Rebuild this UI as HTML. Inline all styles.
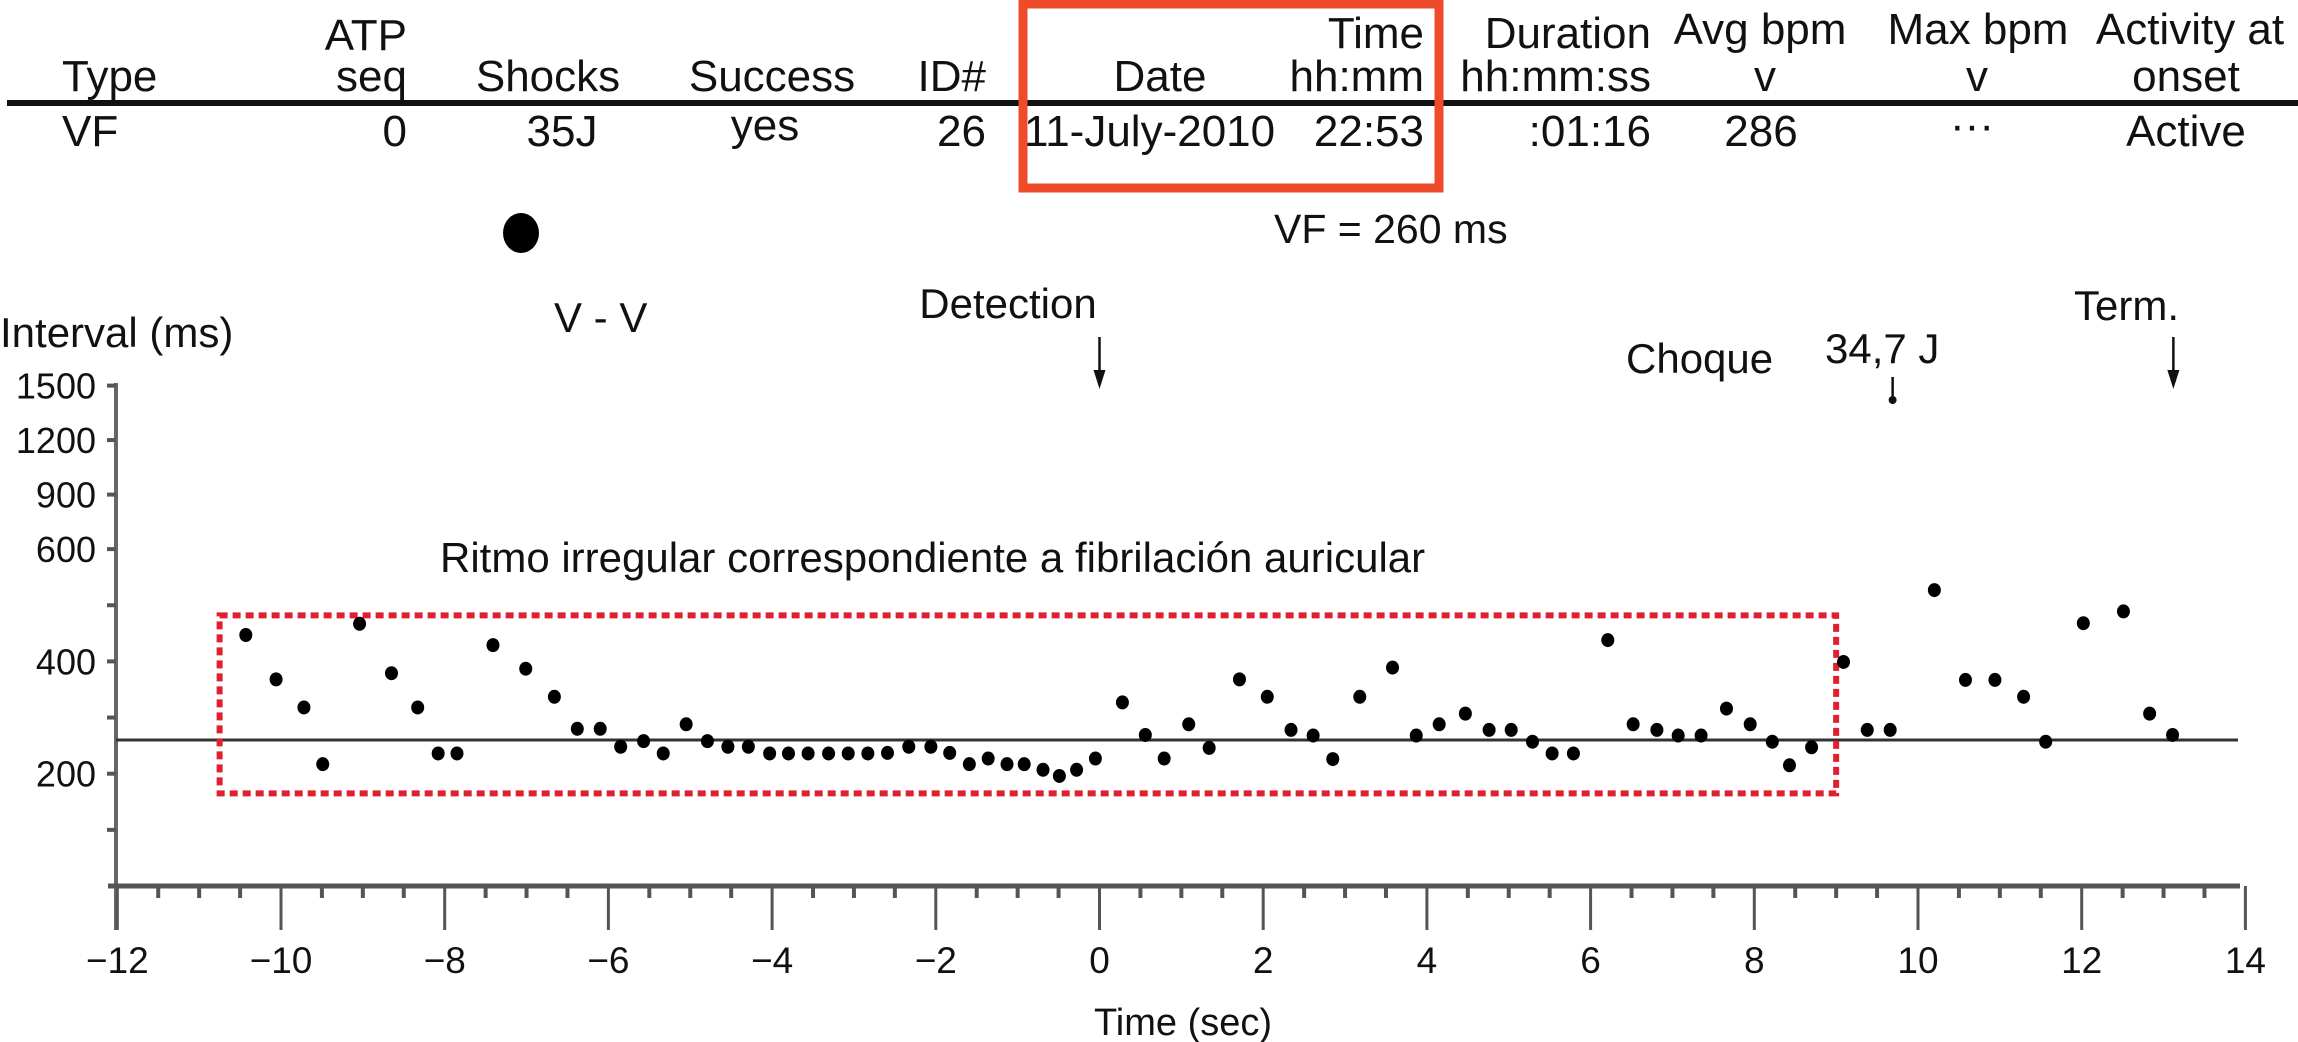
<!DOCTYPE html>
<html><head><meta charset="utf-8">
<style>
html,body{margin:0;padding:0;background:#fff;}
svg{display:block;font-family:"Liberation Sans",Arial,sans-serif;}
</style></head>
<body>
<svg id="chart" width="2298" height="1042" viewBox="0 0 2298 1042" xmlns="http://www.w3.org/2000/svg">
  <rect x="0" y="0" width="2298" height="1042" fill="#fff"/>
  <g font-size="44" fill="#111">
    <text x="407" y="50" text-anchor="end">ATP</text>
    <text x="1424" y="48" text-anchor="end">Time</text>
    <text x="1651" y="48" text-anchor="end">Duration</text>
    <text x="1760" y="44" text-anchor="middle">Avg bpm</text>
    <text x="1978" y="44" text-anchor="middle">Max bpm</text>
    <text x="2190" y="44" text-anchor="middle">Activity at</text>

    <text x="62" y="91">Type</text>
    <text x="407" y="91" text-anchor="end">seq</text>
    <text x="548" y="91" text-anchor="middle">Shocks</text>
    <text x="772" y="91" text-anchor="middle">Success</text>
    <text x="986" y="91" text-anchor="end">ID#</text>
    <text x="1160" y="91" text-anchor="middle">Date</text>
    <text x="1424" y="91" text-anchor="end">hh:mm</text>
    <text x="1651" y="91" text-anchor="end">hh:mm:ss</text>
    <text x="1765" y="91" text-anchor="middle">v</text>
    <text x="1977" y="91" text-anchor="middle">v</text>
    <text x="2186" y="91" text-anchor="middle">onset</text>

    <rect x="7" y="100" width="2291" height="6" fill="#111"/>

    <text x="62" y="146">VF</text>
    <text x="407" y="146" text-anchor="end">0</text>
    <text x="562" y="146" text-anchor="middle">35J</text>
    <text x="765" y="140" text-anchor="middle">yes</text>
    <text x="986" y="146" text-anchor="end">26</text>
    <text x="1024" y="146">11-July-2010</text>
    <text x="1424" y="146" text-anchor="end">22:53</text>
    <text x="1651" y="146" text-anchor="end">:01:16</text>
    <text x="1761" y="146" text-anchor="middle">286</text>
    <text x="1972" y="140" text-anchor="middle">···</text>
    <text x="2186" y="146" text-anchor="middle">Active</text>

    <rect x="1023" y="4" width="416" height="184" fill="none" stroke="#ee4b2b" stroke-width="9"/>
  </g>

  <ellipse cx="521" cy="233" rx="18" ry="20" fill="#000"/>
  <text x="1274" y="243" font-size="41" fill="#111">VF = 260 ms</text>

  <text x="0" y="347" font-size="42" fill="#111">Interval (ms)</text>
  <text x="554" y="332" font-size="42" fill="#111">V - V</text>
  <text x="1008" y="318" font-size="42" fill="#111" text-anchor="middle">Detection</text>
  <text x="1626" y="373" font-size="42" fill="#111">Choque</text>
  <text x="1825" y="363" font-size="42" fill="#111">34,7 J</text>
  <text x="2074" y="320" font-size="42" fill="#111">Term.</text>
  <text x="440" y="572" font-size="42" fill="#111">Ritmo irregular correspondiente a fibrilación auricular</text>
  <text x="1094" y="1035" font-size="38" fill="#111">Time (sec)</text>

  <g id="plot"></g>
</svg>
<script>
// ---- data ----
const timesSec = [-10.43,-10.06,-9.72,-9.49,-9.04,-8.65,-8.33,-8.08,-7.85,-7.41,-7.01,-6.66,-6.38,-6.10,-5.85,-5.57,-5.33,-5.05,-4.79,-4.54,-4.29,-4.03,-3.80,-3.56,-3.31,-3.07,-2.83,-2.59,-2.33,-2.06,-1.83,-1.59,-1.36,-1.13,-0.92,-0.69,-0.49,-0.28,-0.05,0.28,0.56,0.79,1.09,1.34,1.71,2.05,2.34,2.61,2.85,3.18,3.58,3.87,4.15,4.47,4.76,5.03,5.29,5.53,5.79,6.21,6.52,6.81,7.07,7.35,7.66,7.95,8.22,8.43,8.70,9.09,9.38,9.66,10.20,10.58,10.94,11.29,11.56,12.02,12.51,12.83,13.11];
const intervalsMs = [447,368,318,217,467,379,318,236,236,429,387,337,280,280,248,258,236,288,258,248,248,236,236,236,236,236,236,237,248,248,237,217,227,217,217,207,196,207,227,327,269,227,288,246,368,337,278,268,226,337,389,268,288,307,278,278,257,236,236,438,288,278,268,268,316,288,257,215,247,399,278,278,527,367,367,337,257,468,489,307,269];
const yTickValues = [1500,1200,900,600,500,400,300,200,100];
const yTickLabels = ["1500","1200","900","600","","400","","200",""];
const xTickValues = [-12,-10,-8,-6,-4,-2,0,2,4,6,8,10,12,14];
const xTickLabels = ["\u221212","\u221210","\u22128","\u22126","\u22124","\u22122","0","2","4","6","8","10","12","14"];
const vfThresholdMs = [260];
const boxTimeRange = [-10.75, 9.0];
const boxMsRange = [482, 165];
const detectionTime = [0];
const shockTime = [9.69];
const termTime = [13.12];

// ---- scales ----
const X0 = 1099.5, XU = 81.85;
function xs(t){ return X0 + t*XU; }
function ys(v){ return v <= 600 ? 886 - v*0.5615 : 549.1 - (v-600)/300*54.5; }

const NS = "http://www.w3.org/2000/svg";
const plot = document.getElementById('plot');
function mk(tag, attrs){ const e = document.createElementNS(NS, tag); for (const k in attrs) e.setAttribute(k, attrs[k]); plot.appendChild(e); return e; }

let el = mk('line',{x1:116,y1:383,x2:116,y2:930,stroke:'#666','stroke-width':4});


yTickValues.forEach((v,i)=>{
  const t = mk('line',{x1:107,y1:ys(v),x2:116,y2:ys(v),stroke:'#555','stroke-width':4});
  
  
  if (yTickLabels[i]) {
    const lb = mk('text',{x:96,y:ys(v)+13,'font-size':36,'text-anchor':'end',fill:'#111'});
    lb.textContent = yTickLabels[i];
    
    
  }
});

el = mk('line',{x1:108,y1:886,x2:2240,y2:886,stroke:'#555','stroke-width':5});


for (let t=-12; t<=14.001; t+=0.5){
  const major = Math.abs(t - Math.round(t/2)*2) < 1e-6;
  const tk = mk('line',{x1:xs(t),y1:886,x2:xs(t),y2:major?930:898,stroke:'#555','stroke-width':major?3:4});
  
  
}
xTickValues.forEach((v,i)=>{
  const lb = mk('text',{x:xs(v),y:973,'font-size':37,'text-anchor':'middle',fill:'#111'});
  lb.textContent = xTickLabels[i];
  
  
});

el = mk('line',{x1:116,y1:ys(vfThresholdMs[0]),x2:2238,y2:ys(vfThresholdMs[0]),stroke:'#333','stroke-width':3});



el = mk('rect',{x:xs(boxTimeRange[0]),y:ys(boxMsRange[0]),width:xs(boxTimeRange[1])-xs(boxTimeRange[0]),height:ys(boxMsRange[1])-ys(boxMsRange[0]),fill:'none',stroke:'#e0202f','stroke-width':6,'stroke-dasharray':'8 5'});



timesSec.forEach((t,i)=>{
  const p = mk('ellipse',{cx:xs(t),cy:ys(intervalsMs[i]),rx:6.5,ry:7,fill:'#000'});
  
  
});

function arrow(t, name){
  const x = xs(t);
  const l = mk('line',{x1:x,y1:337,x2:x,y2:378,stroke:'#111','stroke-width':2.5});
  
  
  const h = mk('polygon',{points:`${x-6},370 ${x+6},370 ${x},389`,fill:'#111'});
  
  
}
arrow(detectionTime[0],'detection-arrow');
arrow(termTime[0],'termination-arrow');
const sx = xs(shockTime[0]);
el = mk('line',{x1:sx,y1:377,x2:sx,y2:400,stroke:'#111','stroke-width':2.5});


el = mk('circle',{cx:sx,cy:400,r:4,fill:'#111'});


</script>
</body></html>
